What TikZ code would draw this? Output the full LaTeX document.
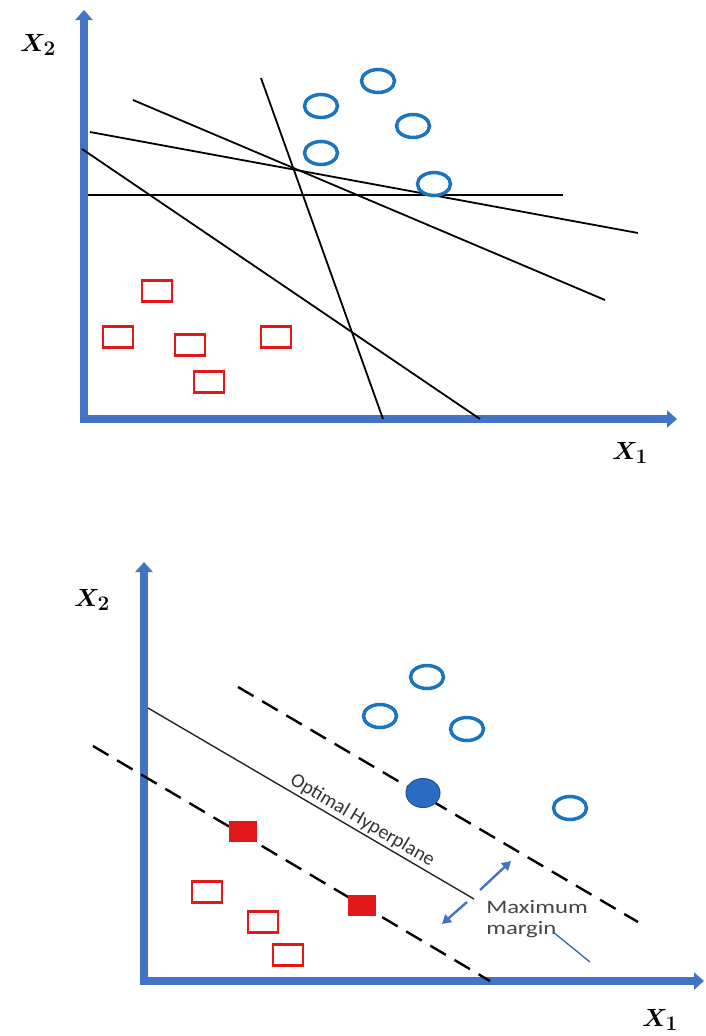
\documentclass[tikz,border=0pt]{standalone}
\usepackage{fontspec}
\usepackage{bm}
\newfontfamily\notefont{Carlito}
\usetikzlibrary{shapes, arrows.meta, positioning, calc}

\definecolor{axisblue}{RGB}{68,114,196}
\definecolor{dotblue}{RGB}{28,117,188}
\definecolor{svblue}{RGB}{42,108,196}
\definecolor{boxred}{RGB}{228,24,24}
\definecolor{notegray}{RGB}{70,70,70}

\begin{document}
\begin{tikzpicture}[
        x=1pt, y=-1pt,
        axis/.style={line width=8pt, draw=axisblue, line join=miter, {Triangle[width=17pt,length=10pt]}-{Triangle[width=17pt,length=10pt]}},
        axislabel/.style={font=\fontsize{28}{30}\selectfont, inner sep=0pt},
        classA/.style={ellipse, draw=dotblue, line width=3.5pt, minimum width=33pt, minimum height=23pt, inner sep=0pt},
        classB/.style={rectangle, draw=boxred, line width=2.6pt, minimum width=30pt, minimum height=21pt, inner sep=0pt},
        supportA/.style={ellipse, fill=svblue, draw=svblue!75!black, line width=1pt, minimum width=34pt, minimum height=29pt, inner sep=0pt},
        supportB/.style={rectangle, fill=boxred, minimum width=28pt, minimum height=21pt, inner sep=0pt},
        sep/.style={line width=1.8pt, draw=black},
        hyper/.style={line width=1.4pt, draw=black!85},
        margin/.style={line width=2.4pt, draw=black, dash pattern=on 18pt off 10pt},
        gap/.style={-{Triangle[width=10pt,length=9pt]}, line width=2.4pt, draw=axisblue},
        note/.style={font=\notefont\fontsize{19}{21}\selectfont, text=notegray, align=left, inner sep=0pt}
    ]
        \useasboundingbox (0,0) rectangle (705,1036);

        % Top panel: axes
        \coordinate (ty) at (84,10);
        \coordinate (tx) at (677,419);
        \draw[axis] (ty) |- (tx);
        \node[axislabel] (tx2) at (38,45) {$\bm{X_2}$};
        \node[axislabel] (tx1) at (630,453) {$\bm{X_1}$};

        % Top panel: candidate separating lines
        \draw[sep] (88,195) -- (563,195);
        \draw[sep] (133,100) -- (605,300);
        \draw[sep] (90,132) -- (638,233);
        \draw[sep] (82,149) -- (480,419);
        \draw[sep] (261,78) -- (383,419);

        % Top panel: circles
        \node[classA] (c1) at (321,106) {};
        \node[classA] (c2) at (378,81) {};
        \node[classA] (c3) at (413,126) {};
        \node[classA] (c4) at (321,153) {};
        \node[classA] (c5) at (434,184) {};

        % Top panel: squares
        \node[classB] (s1) at (157,291) {};
        \node[classB] (s2) at (118,337) {};
        \node[classB] (s3) at (190,345) {};
        \node[classB] (s4) at (276,337) {};
        \node[classB] (s5) at (209,382) {};

        % Bottom panel: axes
        \coordinate (by) at (144,562);
        \coordinate (bx) at (704,981);
        \draw[axis] (by) |- (bx);
        \node[axislabel] (bx2) at (92,600) {$\bm{X_2}$};
        \node[axislabel] (bx1) at (660,1020) {$\bm{X_1}$};

        % Bottom panel: hyperplane and margins
        \coordinate (h1) at (148,708);
        \coordinate (h2) at (474,899);
        \draw[hyper] (h1) -- (h2) node[pos=0.64, sloped, above=2pt, note, font=\notefont\fontsize{20}{22}\selectfont, text=black!80] (hyp) {Optimal Hyperplane};
        \draw[margin] (238,687) -- (638,922);
        \draw[margin] (93,746) -- (490,981);

        % Bottom panel: circles
        \node[classA] (b1) at (427,677) {};
        \node[classA] (b2) at (380,716) {};
        \node[classA] (b3) at (467,729) {};
        \node[supportA] (b4) at (423,793) {};
        \node[classA] (b5) at (570,808) {};

        % Bottom panel: squares
        \node[supportB] (r1) at (243,831) {};
        \node[supportB] (r2) at (362,905) {};
        \node[classB] (r3) at (207,892) {};
        \node[classB] (r4) at (263,922) {};
        \node[classB] (r5) at (288,955) {};

        % Maximum margin
        \coordinate (m1) at (480,890);
        \coordinate (m2) at (511,861);
        \coordinate (m3) at (467,902);
        \coordinate (m4) at (442,924);
        \draw[gap] (m1) -- (m2);
        \draw[gap] (m3) -- (m4);
        \node[note, anchor=north west, xscale=1.3] (mm) at (486,900) {Maximum\\margin};
        \coordinate (p1) at (553,932);
        \coordinate (p2) at (590,962);
        \draw[line width=1.3pt, draw=axisblue!85!black] (p1) -- (p2);

    \end{tikzpicture}
\end{document}
